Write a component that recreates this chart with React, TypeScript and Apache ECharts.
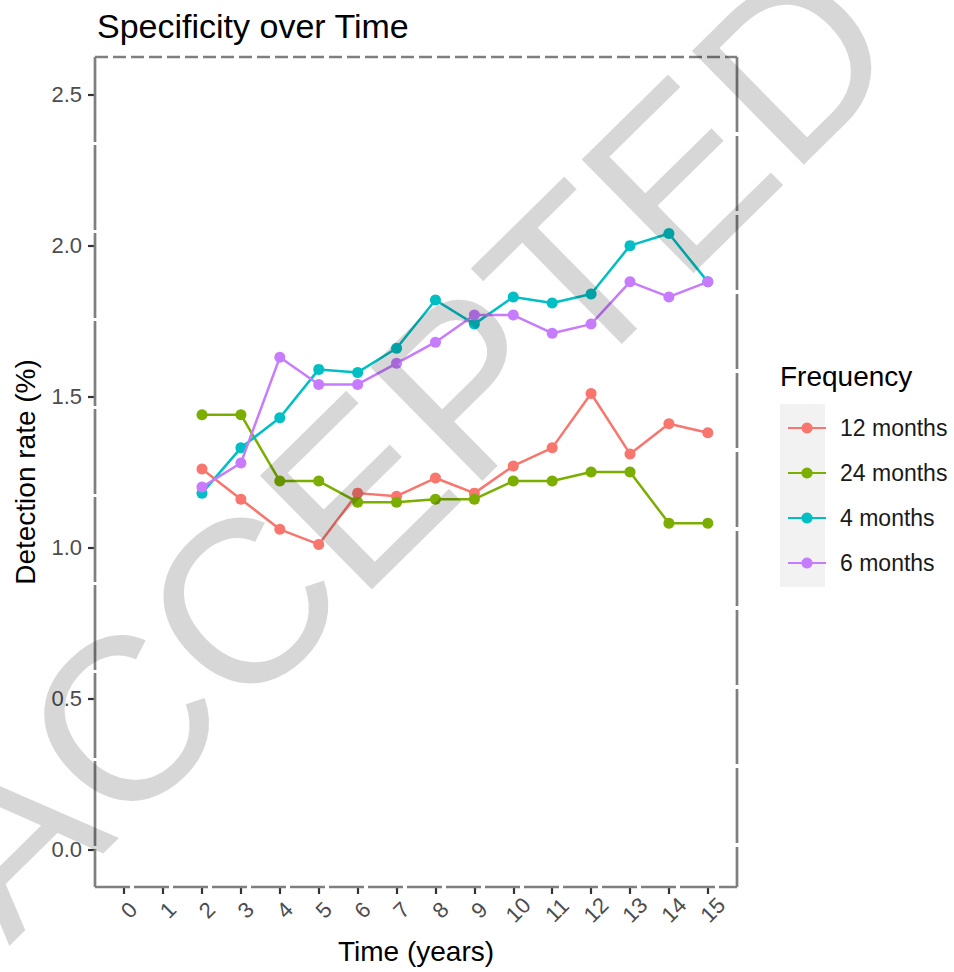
import React, { useEffect, useRef } from 'react';
import * as echarts from 'echarts';

const years = [2, 3, 4, 5, 6, 7, 8, 9, 10, 11, 12, 13, 14, 15];
const months12 = [1.26, 1.16, 1.06, 1.01, 1.18, 1.17, 1.23, 1.18, 1.27, 1.33, 1.51, 1.31, 1.41, 1.38];
const months24 = [1.44, 1.44, 1.22, 1.22, 1.15, 1.15, 1.16, 1.16, 1.22, 1.22, 1.25, 1.25, 1.08, 1.08];
const months4 = [1.18, 1.33, 1.43, 1.59, 1.58, 1.66, 1.82, 1.74, 1.83, 1.81, 1.84, 2.0, 2.04, 1.88];
const months6 = [1.2, 1.28, 1.63, 1.54, 1.54, 1.61, 1.68, 1.77, 1.77, 1.71, 1.74, 1.88, 1.83, 1.88];
const seriesNames = ['12 months', '24 months', '4 months', '6 months'];
const seriesColors = ['#F8766D', '#7CAE00', '#00BFC4', '#C77CFF'];
const xTicks = [0, 1, 2, 3, 4, 5, 6, 7, 8, 9, 10, 11, 12, 13, 14, 15];
const yTicks = [0, 0.5, 1.0, 1.5, 2.0, 2.5];

const FONT = '"Liberation Sans", Arial, sans-serif';

export default function App() {
  const ref = useRef<HTMLDivElement>(null);
  useEffect(() => {
    document.body.style.margin = '0';
    const chart = echarts.init(ref.current!, undefined, { renderer: 'svg' });
    const L = 95, R = 737, T = 57, B = 887;
    const dataSets = [months12, months24, months4, months6];
    const borderStyle = (dash: number[]) => ({ stroke: '#7f7f7f', lineWidth: 2.7, lineDash: dash });
    chart.setOption({
      animation: false,
      backgroundColor: '#ffffff',
      textStyle: { fontFamily: FONT },
      title: {
        text: 'Specificity over Time',
        left: 92,
        top: 4,
        textStyle: { fontSize: 34, fontWeight: 'normal', color: '#000000', fontFamily: FONT },
      },
      grid: { left: L, top: T, width: R - L, height: B - T, containLabel: false },
      xAxis: {
        type: 'value',
        min: -0.75,
        max: 15.75,
        name: 'Time (years)',
        nameLocation: 'middle',
        nameGap: 50,
        nameTextStyle: { fontSize: 28, color: '#000000', fontFamily: FONT },
        axisLine: { show: false, onZero: false },
        splitLine: { show: false },
        axisTick: { show: true, customValues: xTicks, length: 7, lineStyle: { color: '#333333', width: 2.2 } },
        axisLabel: {
          customValues: xTicks,
          rotate: 45,
          margin: 28,
          align: 'center',
          verticalAlign: 'middle',
          padding: [0, 0, 0, 14],
          fontSize: 22,
          color: '#4d4d4d',
          fontFamily: FONT,
          formatter: (v: number) => String(v),
        },
      },
      yAxis: {
        type: 'value',
        min: -0.125,
        max: 2.625,
        name: 'Detection rate (%)',
        nameLocation: 'middle',
        nameGap: 56,
        nameTextStyle: { fontSize: 28, color: '#000000', fontFamily: FONT },
        axisLine: { show: false, onZero: false },
        splitLine: { show: false },
        axisTick: { show: true, customValues: yTicks, length: 7, lineStyle: { color: '#333333', width: 2.2 } },
        axisLabel: {
          customValues: yTicks,
          margin: 13,
          fontSize: 22,
          color: '#4d4d4d',
          fontFamily: FONT,
          formatter: (v: number) => v.toFixed(1),
        },
      },
      legend: {
        data: seriesNames,
        orient: 'vertical',
        left: 782,
        top: 411,
        itemWidth: 38,
        itemHeight: 14,
        itemGap: 21,
        textStyle: { fontSize: 23, color: '#1a1a1a', fontFamily: FONT, lineHeight: 24, padding: [0, 0, 0, 9] },
      },
      series: dataSets.map((d, i) => ({
        name: seriesNames[i],
        type: 'line',
        data: years.map((y, j) => [y, d[j]]),
        symbol: 'circle',
        symbolSize: 11,
        showSymbol: true,
        color: seriesColors[i],
        lineStyle: { width: 2.5, color: seriesColors[i] },
        itemStyle: { color: seriesColors[i] },
        emphasis: { disabled: true },
        z: 2 + i,
      })),
      graphic: [
        { type: 'rect', z: 1, shape: { x: 780, y: 404, width: 45, height: 183 }, style: { fill: '#f2f2f2' } },
        {
          type: 'text', z: 5, left: 780, top: 362,
          style: { text: 'Frequency', fontSize: 28, fill: '#000000', fontFamily: FONT },
        },
        { type: 'line', z: 6, shape: { x1: L, y1: T, x2: R, y2: T }, style: borderStyle([13, 5]) },
        { type: 'line', z: 6, shape: { x1: L, y1: B, x2: R, y2: B }, style: borderStyle([35, 4]) },
        { type: 'line', z: 6, shape: { x1: L, y1: T, x2: L, y2: B }, style: borderStyle([85, 3]) },
        { type: 'line', z: 6, shape: { x1: R, y1: T, x2: R, y2: B }, style: borderStyle([75, 4]) },
        {
          type: 'text', z: 100, x: 403, y: 446, rotation: 0.777,
          style: {
            text: 'ACCEPTED', fontSize: 232, fontWeight: 'normal', fill: 'rgba(0,0,0,0.155)',
            fontFamily: FONT, align: 'center', verticalAlign: 'middle',
          },
        },
      ],
    });
    return () => chart.dispose();
  }, []);
  return <div ref={ref} style={{ width: 954, height: 972 }} />;
}
